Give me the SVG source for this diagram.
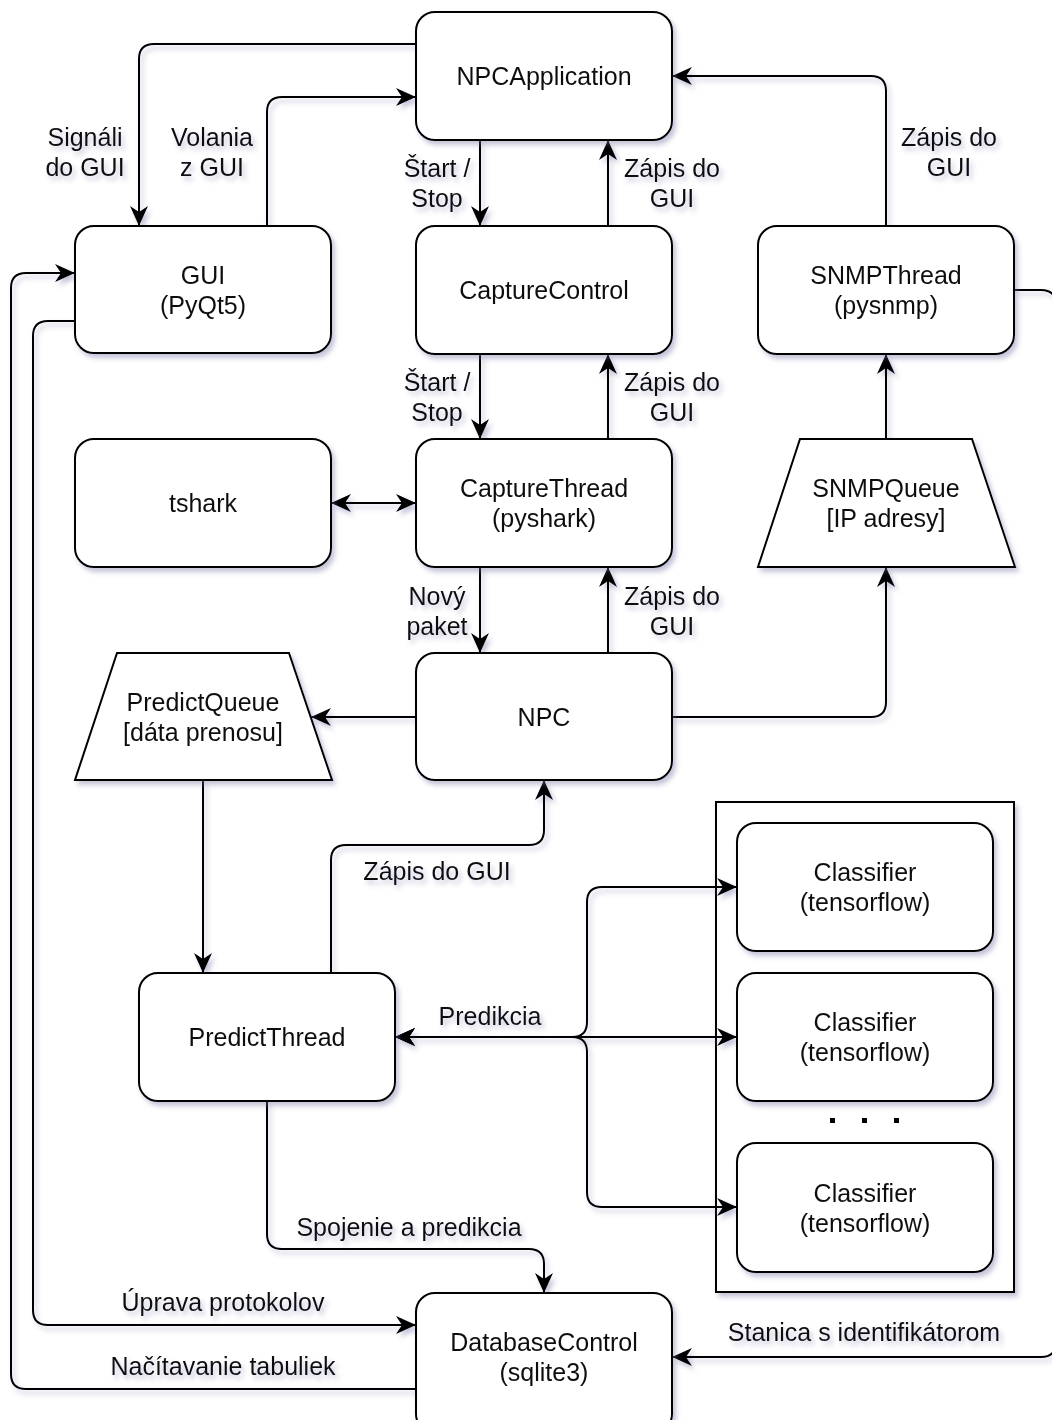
<svg xmlns="http://www.w3.org/2000/svg" width="1052" height="1420" viewBox="0 0 1052 1420">
<defs>
<filter id="sh" x="-10%" y="-10%" width="130%" height="130%">
<feDropShadow dx="3" dy="4" stdDeviation="2.5" flood-color="#6b6b9e" flood-opacity="0.4"/>
</filter>
<marker id="arr" markerUnits="userSpaceOnUse" markerWidth="22" markerHeight="22" viewBox="0 0 22 22" refX="20" refY="11" orient="auto-start-reverse">
<path d="M0,2 L20,11 L0,20 L6,11 Z" fill="#000"/>
</marker>
<style>
.box{fill:#fff;stroke:#000;stroke-width:2}
.t{font-family:"Liberation Sans",Arial,sans-serif;font-size:25px;fill:#111;text-anchor:middle}
.e{fill:none;stroke:#000;stroke-width:2}
</style>
</defs>
<rect width="1052" height="1420" fill="#fff"/>

<g id="classifiers" filter="url(#sh)">
<rect class="box" x="716" y="802" width="298" height="490"/>
</g>

<g id="connectors" filter="url(#sh)">
<path class="e" d="M416,44 H154 Q139,44 139,59 V226" marker-end="url(#arr)"/>
<path class="e" d="M267,226 V112 Q267,97 282,97 H416" marker-end="url(#arr)"/>
<path class="e" d="M480,140 V226" marker-end="url(#arr)"/>
<path class="e" d="M608,226 V140" marker-end="url(#arr)"/>
<path class="e" d="M886,226 V91 Q886,76 871,76 H672" marker-end="url(#arr)"/>
<path class="e" d="M480,354 V439" marker-end="url(#arr)"/>
<path class="e" d="M608,439 V354" marker-end="url(#arr)"/>
<path class="e" d="M331,503 H416" marker-start="url(#arr)" marker-end="url(#arr)"/>
<path class="e" d="M886,439 V354" marker-end="url(#arr)"/>
<path class="e" d="M480,567 V653" marker-end="url(#arr)"/>
<path class="e" d="M608,653 V567" marker-end="url(#arr)"/>
<path class="e" d="M672,717 H871 Q886,717 886,702 V567" marker-end="url(#arr)"/>
<path class="e" d="M416,717 H311" marker-end="url(#arr)"/>
<path class="e" d="M203,780 V973" marker-end="url(#arr)"/>
<path class="e" d="M331,973 V860 Q331,845 346,845 H529 Q544,845 544,830 V780" marker-end="url(#arr)"/>
<path class="e" d="M395,1037 H572 Q587,1037 587,1022 V902 Q587,887 602,887 H737" marker-start="url(#arr)" marker-end="url(#arr)"/>
<path class="e" d="M395,1037 H737" marker-start="url(#arr)" marker-end="url(#arr)"/>
<path class="e" d="M395,1037 H572 Q587,1037 587,1052 V1192 Q587,1207 602,1207 H737" marker-start="url(#arr)" marker-end="url(#arr)"/>
<path class="e" d="M267,1101 V1234 Q267,1249 282,1249 H529 Q544,1249 544,1264 V1293" marker-end="url(#arr)"/>
<path class="e" d="M75,321 H48 Q33,321 33,336 V1310 Q33,1325 48,1325 H416" marker-end="url(#arr)"/>
<path class="e" d="M416,1389 H26 Q11,1389 11,1374 V288 Q11,273 26,273 H75" marker-end="url(#arr)"/>
<path class="e" d="M1014,290 H1041 Q1056,290 1056,305 V1342 Q1056,1357 1041,1357 H672" marker-end="url(#arr)"/>
</g>

<g id="edge-labels" filter="url(#sh)">
<text class="t" x="85" y="146">Signáli</text>
<text class="t" x="85" y="176">do GUI</text>
<text class="t" x="212" y="146">Volania</text>
<text class="t" x="212" y="176">z GUI</text>
<text class="t" x="437" y="177">Štart /</text>
<text class="t" x="437" y="207">Stop</text>
<text class="t" x="672" y="177">Zápis do</text>
<text class="t" x="672" y="207">GUI</text>
<text class="t" x="949" y="146">Zápis do</text>
<text class="t" x="949" y="176">GUI</text>
<text class="t" x="437" y="391">Štart /</text>
<text class="t" x="437" y="421">Stop</text>
<text class="t" x="672" y="391">Zápis do</text>
<text class="t" x="672" y="421">GUI</text>
<text class="t" x="437" y="605">Nový</text>
<text class="t" x="437" y="635">paket</text>
<text class="t" x="672" y="605">Zápis do</text>
<text class="t" x="672" y="635">GUI</text>
<text class="t" x="437" y="880">Zápis do GUI</text>
<text class="t" x="490" y="1025">Predikcia</text>
<text class="t" x="409" y="1236">Spojenie a predikcia</text>
<text class="t" x="223" y="1311">Úprava protokolov</text>
<text class="t" x="223" y="1375">Načítavanie tabuliek</text>
<text class="t" x="864" y="1341">Stanica s identifikátorom</text>
</g>

<g id="npcapplication" filter="url(#sh)">
<rect class="box" x="416" y="12" width="256" height="128" rx="19"/>
<text class="t" x="544" y="85">NPCApplication</text>
</g>
<g id="gui" filter="url(#sh)">
<rect class="box" x="75" y="226" width="256" height="127" rx="19"/>
<text class="t" x="203" y="284">GUI</text>
<text class="t" x="203" y="314">(PyQt5)</text>
</g>
<g id="capturecontrol" filter="url(#sh)">
<rect class="box" x="416" y="226" width="256" height="128" rx="19"/>
<text class="t" x="544" y="299">CaptureControl</text>
</g>
<g id="snmpthread" filter="url(#sh)">
<rect class="box" x="758" y="226" width="256" height="128" rx="19"/>
<text class="t" x="886" y="284">SNMPThread</text>
<text class="t" x="886" y="314">(pysnmp)</text>
</g>
<g id="tshark" filter="url(#sh)">
<rect class="box" x="75" y="439" width="256" height="128" rx="19"/>
<text class="t" x="203" y="512">tshark</text>
</g>
<g id="capturethread" filter="url(#sh)">
<rect class="box" x="416" y="439" width="256" height="128" rx="19"/>
<text class="t" x="544" y="497">CaptureThread</text>
<text class="t" x="544" y="527">(pyshark)</text>
</g>
<g id="snmpqueue" filter="url(#sh)">
<path class="box" d="M800,439 H972 L1015,567 H758 Z"/>
<text class="t" x="886" y="497">SNMPQueue</text>
<text class="t" x="886" y="527">[IP adresy]</text>
</g>
<g id="npc" filter="url(#sh)">
<rect class="box" x="416" y="653" width="256" height="127" rx="19"/>
<text class="t" x="544" y="726">NPC</text>
</g>
<g id="predictqueue" filter="url(#sh)">
<path class="box" d="M117,653 H289 L332,780 H75 Z"/>
<text class="t" x="203" y="711">PredictQueue</text>
<text class="t" x="203" y="741">[dáta prenosu]</text>
</g>
<g id="predictthread" filter="url(#sh)">
<rect class="box" x="139" y="973" width="256" height="128" rx="19"/>
<text class="t" x="267" y="1046">PredictThread</text>
</g>
<g id="classifier1" filter="url(#sh)">
<rect class="box" x="737" y="823" width="256" height="128" rx="19"/>
<text class="t" x="865" y="881">Classifier</text>
<text class="t" x="865" y="911">(tensorflow)</text>
</g>
<g id="classifier2" filter="url(#sh)">
<rect class="box" x="737" y="973" width="256" height="128" rx="19"/>
<text class="t" x="865" y="1031">Classifier</text>
<text class="t" x="865" y="1061">(tensorflow)</text>
</g>
<g id="dots">
<rect x="830" y="1118" width="5" height="5" fill="#000"/>
<rect x="862" y="1118" width="5" height="5" fill="#000"/>
<rect x="894" y="1118" width="5" height="5" fill="#000"/>
</g>
<g id="classifier3" filter="url(#sh)">
<rect class="box" x="737" y="1143" width="256" height="129" rx="19"/>
<text class="t" x="865" y="1202">Classifier</text>
<text class="t" x="865" y="1232">(tensorflow)</text>
</g>
<g id="databasecontrol" filter="url(#sh)">
<rect class="box" x="416" y="1293" width="256" height="140" rx="19"/>
<text class="t" x="544" y="1351">DatabaseControl</text>
<text class="t" x="544" y="1381">(sqlite3)</text>
</g>
</svg>
